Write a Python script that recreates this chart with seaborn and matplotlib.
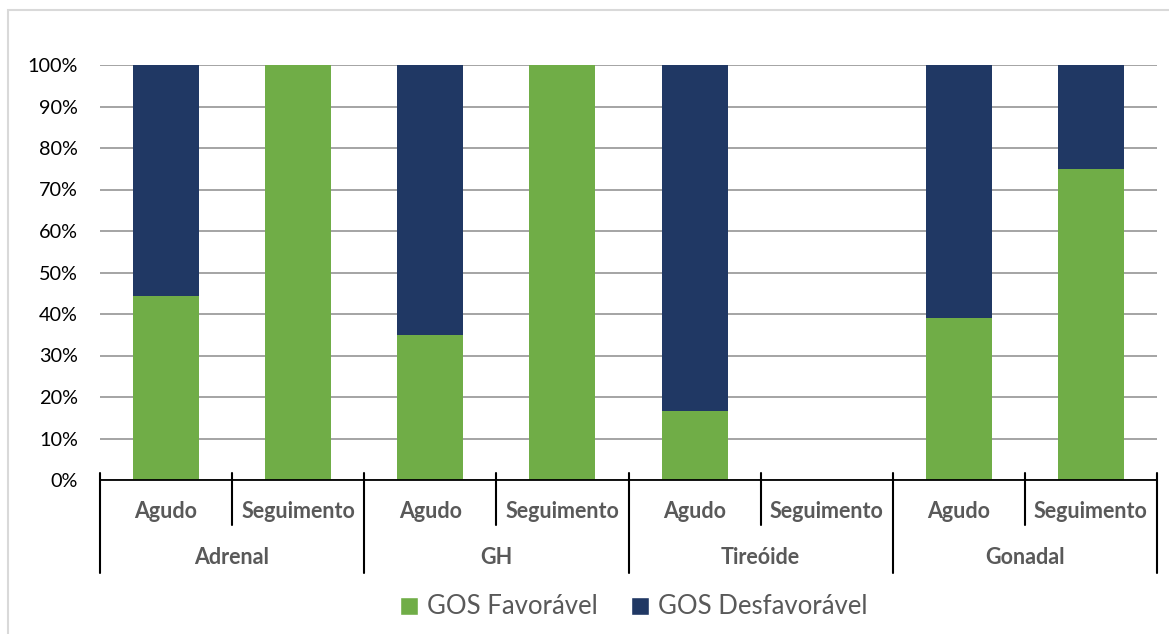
import numpy as np
import pandas as pd
import matplotlib.pyplot as plt
import seaborn as sns
from matplotlib.patches import Rectangle, Patch

# Data
groups = ["Adrenal", "GH", "Tireóide", "Gonadal"]
phases = ["Agudo", "Seguimento"]
favoravel = [0.444, 1.0, 0.35, 1.0, 0.167, 0.0, 0.39, 0.75]
desfavoravel = [0.556, 0.0, 0.65, 0.0, 0.833, 0.0, 0.61, 0.25]

keys = [f"{g}|{p}" for g in groups for p in phases]
df = pd.DataFrame({"key": keys, "fav": favoravel, "desf": desfavoravel})
df["total"] = df["fav"] + df["desf"]

green = "#70AD47"
navy = "#203864"
text_gray = "#595959"

sns.set_style("white")
plt.rcParams["font.family"] = ["Lato", "DejaVu Sans"]

fig = plt.figure(figsize=(11.69, 6.34), dpi=100)
ax = fig.add_axes([100 / 1169, 1 - 480 / 634, 1057 / 1169, 415 / 634])

sns.barplot(data=df, x="key", y="total", order=keys, color=navy, width=0.5,
            saturation=1, linewidth=0, ax=ax, zorder=3)
sns.barplot(data=df, x="key", y="fav", order=keys, color=green, width=0.5,
            saturation=1, linewidth=0, ax=ax, zorder=3)

ax.set_xlim(-0.5, len(keys) - 0.5)
ax.set_ylim(0, 1)
ax.set_yticks(np.arange(0, 1.01, 0.1))
ax.set_yticklabels([f"{int(round(v * 100))}%" for v in np.arange(0, 1.01, 0.1)],
                   fontsize=14.3, color="#000000")
ax.tick_params(axis="y", length=0, pad=16)
ax.grid(axis="y", color="#8c8c8c", linewidth=1.1, zorder=0)
ax.set_axisbelow(True)
for s in ["left", "right", "top"]:
    ax.spines[s].set_visible(False)
ax.spines["bottom"].set_color("#000000")
ax.spines["bottom"].set_linewidth(1.3)
ax.spines["bottom"].set_zorder(4)
ax.set_xticks([])
ax.set_xlabel("")
ax.set_ylabel("")

# multi-level category axis
trans = ax.get_xaxis_transform()
for i in range(len(keys) + 1):
    x = i - 0.5
    y_end = -0.224 if i % 2 == 0 else -0.108
    ax.plot([x, x], [0.017, y_end], color="#000000", lw=1.5,
            transform=trans, clip_on=False, zorder=5)
for i, k in enumerate(keys):
    ax.text(i, -0.075, k.split("|")[1], transform=trans, ha="center",
            va="center", fontsize=15.5, fontweight="bold", color=text_gray)
for j, g in enumerate(groups):
    ax.text(2 * j + 0.5, -0.186, g, transform=trans, ha="center",
            va="center", fontsize=15.5, fontweight="bold", color=text_gray)

handles = [Patch(facecolor=green, label="GOS Favorável"),
           Patch(facecolor=navy, label="GOS Desfavorável")]
fig.legend(handles=handles, loc="center", bbox_to_anchor=(0.542, 1 - 607 / 634),
           ncol=2, frameon=False, fontsize=18.5, handlelength=0.7,
           handleheight=0.7, columnspacing=1.3, handletextpad=0.35,
           labelcolor=text_gray)

# chart area border
fig.patches.append(Rectangle((7.5 / 1169, -0.1), 1.2, 1 - 10 / 634 + 0.1,
                             transform=fig.transFigure, fill=False,
                             edgecolor="#d9d9d9", lw=1.5))

fig.savefig("out.png", dpi=100)
